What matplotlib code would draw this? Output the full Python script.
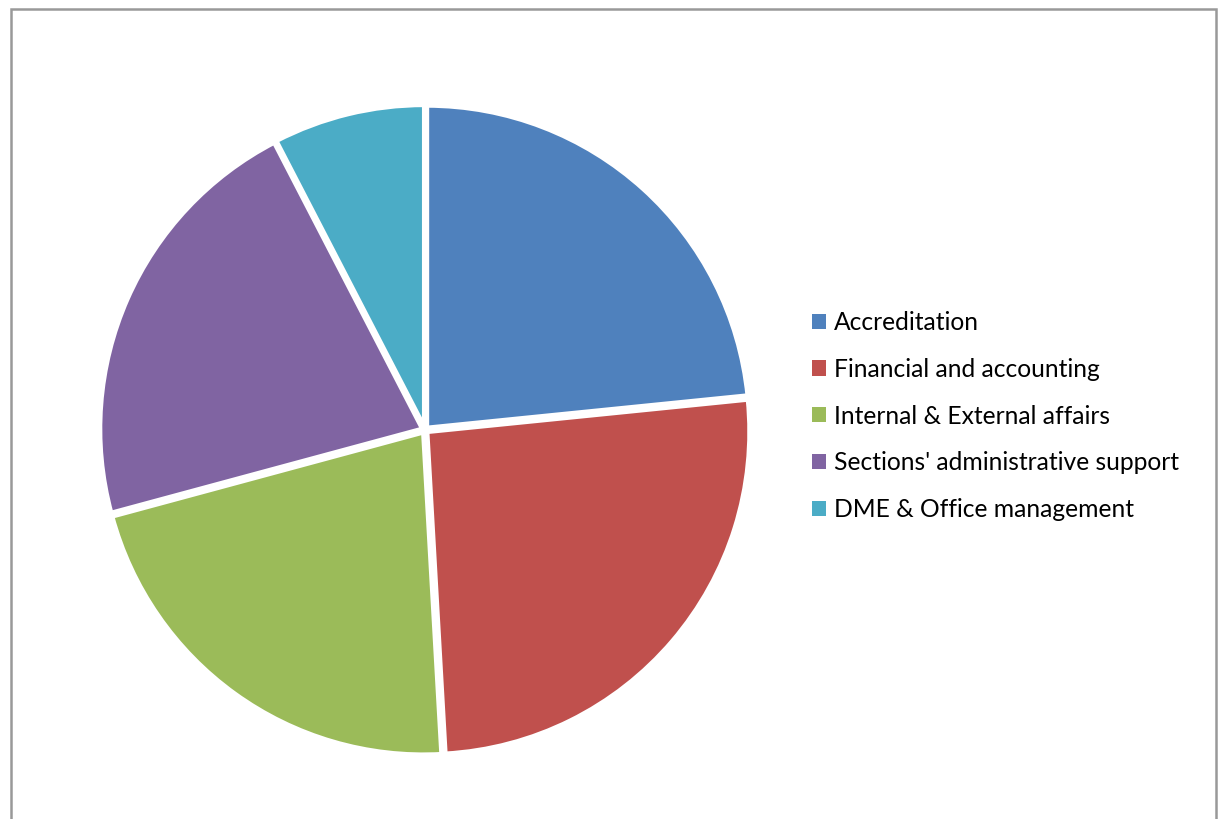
import matplotlib
matplotlib.use("Agg")
import matplotlib.pyplot as plt
from matplotlib.patches import Rectangle, Patch

categories = ["Accreditation", "Financial and accounting", "Internal & External affairs",
              "Sections' administrative support", "DME & Office management"]
values = [23.4, 25.7, 21.7, 21.6, 7.6]
colors = ["#4F81BD", "#C0504D", "#9BBB59", "#8064A2", "#4BACC6"]

W, H = 1218, 819
fig = plt.figure(figsize=(W / 100, H / 100), dpi=100)
plt.rcParams['font.family'] = ['Lato', 'DejaVu Sans']

cx, cy, r = 425, 430, 326
ax = fig.add_axes([(cx - r) / W, (H - cy - r) / H, 2 * r / W, 2 * r / H])
ax.pie(values, colors=colors, startangle=90, counterclock=False,
       explode=[0.008] * 5, radius=0.99,
       wedgeprops=dict(edgecolor="white", linewidth=3.5))
ax.set_xlim(-1, 1)
ax.set_ylim(-1, 1)
ax.set_aspect('equal')
ax.axis('off')

handles = [Patch(facecolor=c, edgecolor='none') for c in colors]
fig.legend(handles, categories, loc='center left',
           bbox_to_anchor=(812 / W, (H - 416) / H),
           frameon=False, fontsize=17.7, handlelength=0.57, handleheight=0.57,
           handletextpad=0.33, labelspacing=0.97, borderpad=0, borderaxespad=0)

fig.patches.append(Rectangle((10.5 / W, -0.05), (1215.5 - 10.5) / W, 1.05 - 8.5 / H,
                             transform=fig.transFigure, fill=False,
                             edgecolor="#999999", linewidth=1.8))

fig.savefig("out.png", dpi=100, facecolor="white")
